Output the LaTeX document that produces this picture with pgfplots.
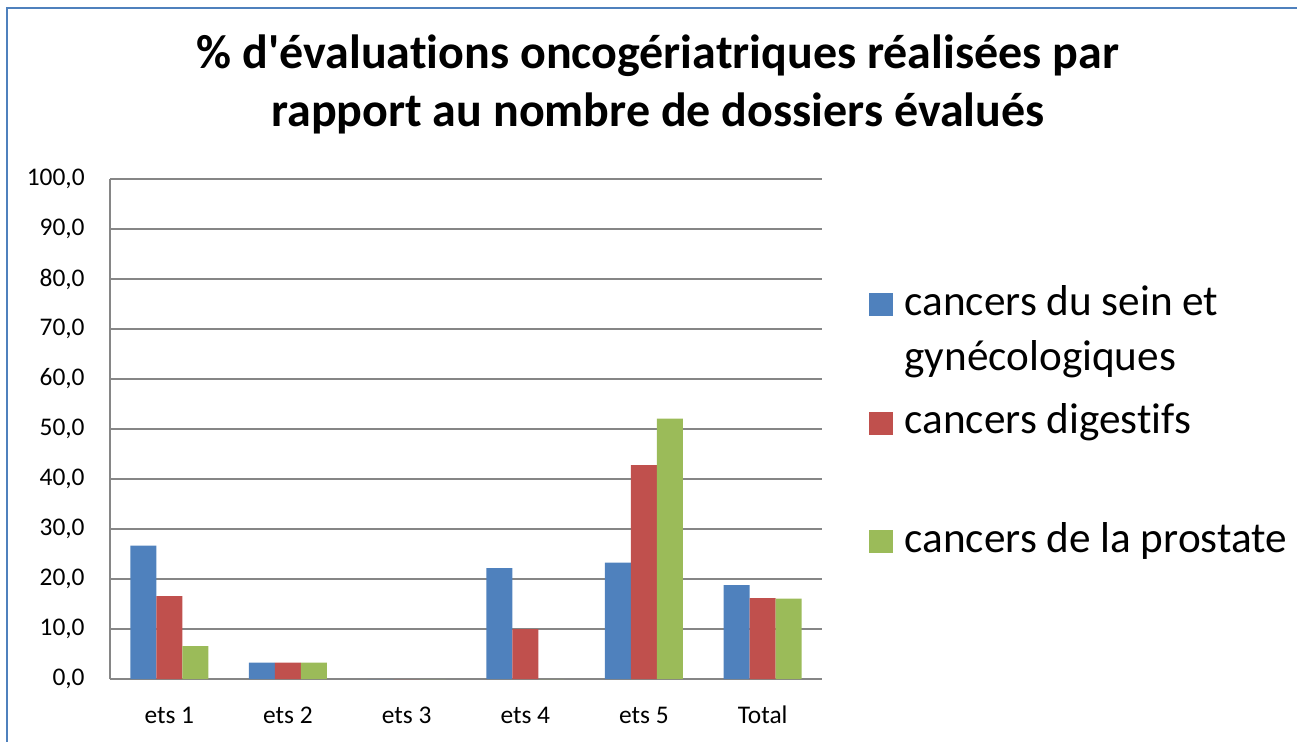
\documentclass[border=0pt]{standalone}
\usepackage{pgfplots}
\usepackage{pgfplotstable}
\pgfplotsset{compat=1.18}
\usepackage{fontspec}
\setmainfont{Carlito}[Ligatures={NoCommon,NoContextual}]
\definecolor{cblue}{HTML}{4F81BD}
\definecolor{cred}{HTML}{C0504D}
\definecolor{cgreen}{HTML}{9BBB59}
\definecolor{gridgray}{HTML}{868686}
\definecolor{frameblue}{HTML}{4F81BD}
\pgfplotsset{/pgfplots/ybar legend/.style={/pgfplots/legend image code/.code={\fill[##1] (0pt,-0.5pt) rectangle (12pt,11pt);}}}

\pgfplotstableread{
x blue red green
0 26.7 16.6 6.6
1 3.3 3.3 3.3
2 0 0 0
3 22.2 10.0 0
4 23.3 42.8 52.1
5 18.8 16.2 16.1
}\data

\begin{document}
\begin{tikzpicture}
\useasboundingbox (0,0) rectangle (648.5pt,370.5pt);
\draw[frameblue, line width=1pt] (3.5pt,-2pt) -- (3.5pt,366.5pt) -- (652pt,366.5pt);
\node[anchor=base, inner sep=0pt, font=\fontsize{24}{29}\selectfont\bfseries] at (329pt,336pt) {\% d\textquotesingle évaluations oncogériatriques réalisées par};
\node[anchor=base, inner sep=0pt, font=\fontsize{24}{29}\selectfont\bfseries] at (329pt,307pt) {rapport au nombre de dossiers évalués};
\begin{axis}[
  at={(55pt,31pt)}, anchor=south west,
  width=356pt, height=250pt, scale only axis,
  xmin=-0.5, xmax=5.5, ymin=0, ymax=100,
  ybar=0pt, bar width=13pt,
  axis x line*=bottom, axis y line*=left,
  axis line style={draw=gridgray, line width=1pt},
  ymajorgrids, grid style={draw=gridgray, line width=1pt},
  major tick length=0pt,
  xtick=data, xticklabels={ets 1, ets 2, ets 3, ets 4, ets 5, Total},
  ytick={0,10,20,30,40,50,60,70,80,90,100},
  /pgf/number format/fixed, /pgf/number format/fixed zerofill,
  /pgf/number format/precision=1, /pgf/number format/use comma,
  /pgf/number format/assume math mode=true,
  tick label style={font=\fontsize{12.7}{15}\selectfont},
  yticklabel style={anchor=east, inner sep=0pt, xshift=-12.5pt},
  xticklabel style={anchor=base, inner sep=0pt, yshift=-22pt},
  legend style={at={(1.066,0.788)}, anchor=north west, draw=none, fill=none,
    inner sep=0pt, outer sep=0pt, row sep=39.25pt, column sep=5.8pt,
    font=\fontsize{21.6}{27.5}\selectfont,
    nodes={anchor=base west, inner sep=0pt, text height=15pt, text depth=5pt}},
]
\addplot[fill=cblue, draw=none] table[x=x, y=blue] {\data};
\addlegendentry{\raisebox{0pt}[\height][0pt]{\begin{tabular}[t]{@{}l@{}}cancers du sein et\\gynécologiques\end{tabular}}}
\addplot[fill=cred, draw=none] table[x=x, y=red] {\data};
\addlegendentry{cancers digestifs}
\addplot[fill=cgreen, draw=none] table[x=x, y=green] {\data};
\addlegendentry{cancers de la prostate}
\end{axis}
\end{tikzpicture}
\end{document}
